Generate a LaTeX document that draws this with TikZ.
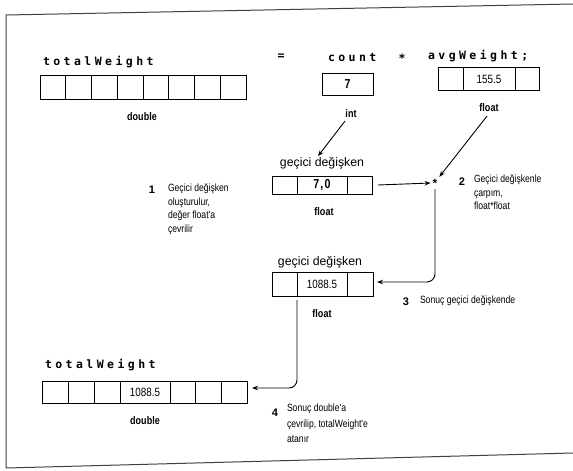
\documentclass[tikz,border=0pt]{standalone}
\usepackage{fontspec}
\setmainfont{Liberation Sans}
\newfontfamily\codefont[LetterSpace=30]{DejaVu Sans Mono}
\newfontfamily\plaincode{DejaVu Sans Mono}
\newfontfamily\condfont[FakeStretch=0.82]{Liberation Sans}
\usetikzlibrary{arrows.meta}
\begin{document}
\begin{tikzpicture}[x=1pt,y=-1pt,
  every node/.style={inner sep=0pt, outer sep=0pt},
  cellbox/.style={draw, line width=1pt},
  divider/.style={line width=1pt},
  codetxt/.style={font=\codefont\bfseries\fontsize{11.5}{13}\selectfont, anchor=base west},
  sym/.style={font=\plaincode\bfseries\fontsize{11.5}{13}\selectfont},
  typelbl/.style={font=\condfont\bfseries\fontsize{11}{13}\selectfont},
  valtxt/.style={font=\condfont\fontsize{12}{14}\selectfont},
  boldval/.style={font=\condfont\bfseries\fontsize{13}{15}\selectfont},
  templbl/.style={font=\fontsize{12.3}{14}\selectfont, inner sep=1pt},
  steptxt/.style={font=\condfont\fontsize{10.5}{13.5}\selectfont, align=left, anchor=north west},
  stepnum/.style={font=\bfseries\fontsize{11}{13}\selectfont},
  arr/.style={line width=0.9pt, -{Stealth[length=6pt,width=4.5pt]}},
  framestyle/.style={line width=1pt, black!75}]
\useasboundingbox (0,0) rectangle (573,471);
\fill[white] (0,0) rectangle (573,471);
\draw[framestyle] (573,4) -- (6,15) -- (6,468) -- (573,453);

% statement
\node[codetxt] (twlbl1) at (43,65) {totalWeight};
\node[sym] (eq) at (281,57) {=};
\node[codetxt] (cntlbl) at (328,61) {count};
\node[sym] (mul) at (402,58) {*};
\node[codetxt] (avglbl) at (428,59) {avgWeight;};

% totalWeight (top)
\node[cellbox, minimum width=206pt, minimum height=24pt] (tw1) at (143,87) {};
\foreach \i in {1,...,7} \draw[divider] ({40+\i*25.75},75) -- ({40+\i*25.75},99);
\node[typelbl] (dbl1) at (142,117) {double};

% count
\node[cellbox, minimum width=51pt, minimum height=22pt, boldval] (cnt) at (347.5,84) {7};
\node[typelbl] (intlbl) at (351,114) {int};

% avgWeight
\node[cellbox, minimum width=101pt, minimum height=23pt] (avg) at (488.5,78.5) {};
\draw[divider] (463,67) -- (463,90);
\draw[divider] (515,67) -- (515,90);
\node[valtxt] (avgval) at (489,79) {155.5};
\node[typelbl] (fltlbl) at (489,108) {float};

% temporary 1
\node[templbl] (gl1) at (322,163) {geçici değişken};
\node[cellbox, minimum width=100pt, minimum height=18pt] (box2) at (322,185) {};
\draw[divider] (297,176) -- (297,194);
\draw[divider] (347,176) -- (347,194);
\node[boldval] (val2) at (322,185) {7\kern1pt,\kern1.5pt0};
\node[typelbl] (flt2) at (324,212) {float};

\node[font=\bfseries\fontsize{12}{14}\selectfont, inner sep=2pt] (star) at (435,183) {*};

% step 1
\node[stepnum] (n1) at (152,190) {1};
\node[steptxt] (s1) at (168,184) {Geçici değişken\\oluşturulur,\\değer float'a\\çevrilir};

% step 2
\node[stepnum] (n2) at (462,182) {2};
\node[steptxt] (s2) at (474,175) {Geçici değişkenle\\çarpım,\\float*float};

% temporary 2
\node[templbl] (gl3) at (320,262) {geçici değişken};
\node[cellbox, minimum width=101pt, minimum height=24pt] (box3) at (322.5,284) {};
\draw[divider] (297,272) -- (297,296);
\draw[divider] (347,272) -- (347,296);
\node[valtxt] (val3) at (322,284) {1088.5};
\node[typelbl] (flt3) at (322,314) {float};

% step 3
\node[stepnum] (n3) at (406,302) {3};
\node[steptxt, anchor=west] (s3) at (420,301) {Sonuç geçici değişkende};

% totalWeight (bottom)
\node[codetxt] (twlbl2) at (45,368) {totalWeight};
\node[cellbox, minimum width=205pt, minimum height=22pt] (tw2) at (144.5,392) {};
\foreach \xx in {68,94,120,170,195,221} \draw[divider] (\xx,381) -- (\xx,403);
\node[valtxt] (val4) at (145,392) {1088.5};
\node[typelbl] (dbl2) at (145,421) {double};

% step 4
\node[stepnum] (n4) at (275,413) {4};
\node[steptxt, font=\condfont\fontsize{10.5}{15.5}\selectfont] (s4) at (287,404) {Sonuç double'a\\çevrilip, totalWeight'e\\atanır};

% connectors
\draw[arr] ([xshift=-6pt,yshift=-3pt]intlbl.south) -- ([xshift=-4pt]gl1.north);
\draw[arr] ([xshift=-2pt,yshift=-4pt]fltlbl.south) -- (star.north east);
\draw[arr] ([xshift=6pt]box2.east) -- (star.west);
\draw[arr, rounded corners=8pt] (star.south) |- ([xshift=4pt,yshift=2pt]box3.east);
\draw[arr, rounded corners=8pt] ([xshift=-25.5pt,yshift=-4pt]box3.south) |- ([xshift=5pt,yshift=4pt]tw2.east);
\end{tikzpicture}
\end{document}
